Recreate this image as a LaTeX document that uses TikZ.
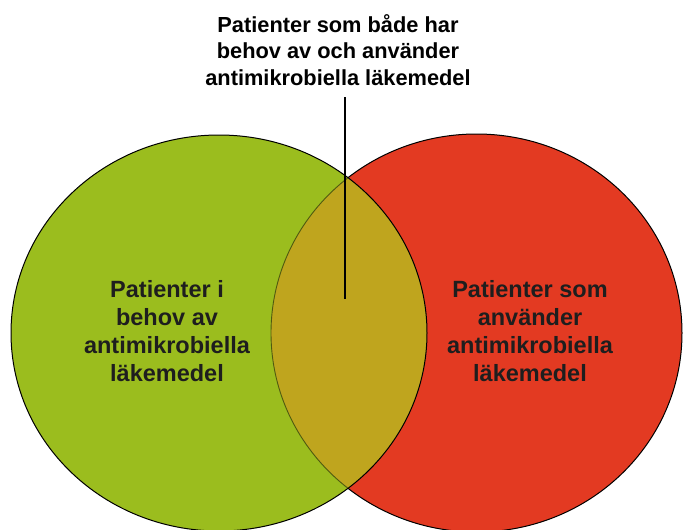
\documentclass[tikz,border=0pt]{standalone}
\usepackage{fontspec}
\setmainfont{Liberation Sans}
\definecolor{vgreen}{HTML}{9BBD1E}
\definecolor{vred}{HTML}{E33A22}
\definecolor{vmix}{HTML}{BFA51E}
\definecolor{vedge}{HTML}{4F5A10}
\definecolor{vtext}{HTML}{1E1E1E}
\tikzset{
  setlabel/.style={align=center,text=vtext,font=\fontsize{23.5}{28}\selectfont\bfseries,inner sep=0pt},
  toplabel/.style={align=center,text=black,font=\fontsize{21.8}{26.5}\selectfont\bfseries,inner sep=0pt},
  outline/.style={draw=black,line width=1pt},
  pointer/.style={draw=black,line width=1.6pt}
}
\begin{document}
\begin{tikzpicture}[x=1pt,y=-1pt]
\useasboundingbox (0,0) rectangle (683,530);
\clip (0,0) rectangle (683,530);
% red set
\fill[vred] (476.5,333) ellipse [x radius=205.5, y radius=199];
\draw[outline] (476.5,333) ellipse [x radius=205.5, y radius=199];
% green set
\fill[vgreen] (219,333) ellipse [x radius=208, y radius=198];
% intersection
\begin{scope}
  \clip (476.5,333) ellipse [x radius=205.5, y radius=199];
  \fill[vmix] (219,333) ellipse [x radius=208, y radius=198];
\end{scope}
\begin{scope}
  \clip (219,333) ellipse [x radius=208, y radius=198];
  \draw[draw=vedge,line width=0.9pt] (476.5,333) ellipse [x radius=205.5, y radius=199];
\end{scope}
\draw[outline] (219,333) ellipse [x radius=208, y radius=198];
% labels
\node[setlabel] (need) at (167,331) {Patienter i\\behov av\\antimikrobiella\\läkemedel};
\node[setlabel] (use) at (530,331) {Patienter som\\använder\\antimikrobiella\\läkemedel};
\node[toplabel] (both) at (338,50) {Patienter som både har\\behov av och använder\\antimikrobiella läkemedel};
\coordinate (pstart) at (345,97);
\coordinate (pend) at (345,299);
\draw[pointer] (pstart) -- (pend);
\end{tikzpicture}
\end{document}
